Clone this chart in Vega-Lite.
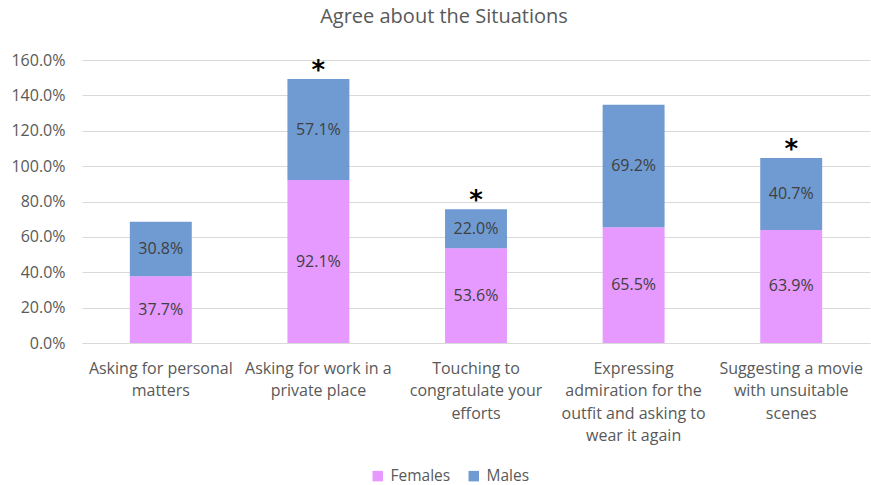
{
  "$schema": "https://vega.github.io/schema/vega-lite/v6.json",
  "width": 788,
  "height": 283,
  "autosize": {"type": "none"},
  "padding": {"left": 82, "top": 60, "right": 1, "bottom": 142},
  "background": "white",
  "config": {"font": "Open Sans", "view": {"stroke": null}},
  "title": {"text": "Agree about the Situations", "font": "Open Sans", "fontSize": 20, "fontWeight": "normal", "color": "#595959", "anchor": "middle", "dx": -32, "offset": 25},
  "data": {"values": [
    {"situation": "Asking for personal\nmatters", "gender": "Females", "value": 0.377, "sig": ""},
    {"situation": "Asking for personal\nmatters", "gender": "Males", "value": 0.308, "sig": ""},
    {"situation": "Asking for work in a\nprivate place", "gender": "Females", "value": 0.921, "sig": ""},
    {"situation": "Asking for work in a\nprivate place", "gender": "Males", "value": 0.571, "sig": "*"},
    {"situation": "Touching to\ncongratulate your\nefforts", "gender": "Females", "value": 0.536, "sig": ""},
    {"situation": "Touching to\ncongratulate your\nefforts", "gender": "Males", "value": 0.22, "sig": "*"},
    {"situation": "Expressing\nadmiration for the\noutfit and asking to\nwear it again", "gender": "Females", "value": 0.655, "sig": ""},
    {"situation": "Expressing\nadmiration for the\noutfit and asking to\nwear it again", "gender": "Males", "value": 0.692, "sig": ""},
    {"situation": "Suggesting a movie\nwith unsuitable\nscenes", "gender": "Females", "value": 0.639, "sig": ""},
    {"situation": "Suggesting a movie\nwith unsuitable\nscenes", "gender": "Males", "value": 0.407, "sig": "*"}
  ]},
  "transform": [
    {"stack": "value", "groupby": ["situation"], "as": ["v0", "v1"], "sort": [{"field": "gender"}]},
    {"calculate": "(datum.v0 + datum.v1) / 2", "as": "mid"}
  ],
  "encoding": {
    "x": {
      "field": "situation", "type": "nominal", "sort": null,
      "scale": {"paddingInner": 0.607, "paddingOuter": 0.3035},
      "axis": {"title": null, "labelAngle": 0, "labelExpr": "split(datum.label, '\\n')", "labelFontSize": 16, "labelColor": "#595959", "labelLineHeight": 22.5, "labelPadding": 17, "labelBaseline": "top", "ticks": false, "domain": true, "domainColor": "#d9d9d9", "labelFont": "Open Sans", "labelOverlap": false}
    }
  },
  "layer": [
    {
      "mark": {"type": "bar"},
      "encoding": {
        "y": {"field": "v0", "type": "quantitative", "scale": {"domain": [0, 1.6]},
          "axis": {"title": null, "format": ".1%", "values": [0, 0.2, 0.4, 0.6, 0.8, 1.0, 1.2, 1.4, 1.6], "labelFontSize": 16, "labelColor": "#595959", "labelPadding": 17, "ticks": false, "domain": false, "gridColor": "#d9d9d9", "gridWidth": 1, "labelFont": "Open Sans", "labelOverlap": false}},
        "y2": {"field": "v1"},
        "color": {"field": "gender", "type": "nominal",
          "scale": {"domain": ["Females", "Males"], "range": ["#E699FF", "#6F9BD2"]},
          "legend": {"title": null, "orient": "none", "legendX": 288, "legendY": 408, "direction": "horizontal", "symbolType": "square", "symbolSize": 110, "symbolStrokeWidth": 0, "labelFontSize": 15.5, "labelColor": "#595959", "labelFont": "Open Sans", "columnPadding": 15, "labelOffset": 5}}
      }
    },
    {
      "mark": {"type": "text", "fontSize": 16, "color": "#404040", "baseline": "middle", "font": "Open Sans"},
      "encoding": {
        "y": {"field": "mid", "type": "quantitative",
          "axis": {"title": null, "format": ".1%", "values": [0, 0.2, 0.4, 0.6, 0.8, 1.0, 1.2, 1.4, 1.6], "labelFontSize": 16, "labelColor": "#595959", "labelPadding": 17, "ticks": false, "domain": false, "gridColor": "#d9d9d9", "gridWidth": 1, "labelFont": "Open Sans", "labelOverlap": false}},
        "text": {"field": "value", "type": "quantitative", "format": ".1%"}
      }
    },
    {
      "mark": {"type": "text", "fontSize": 26, "fontWeight": "bold", "color": "#000000", "baseline": "alphabetic", "dy": 0, "font": "DejaVu Sans"},
      "encoding": {
        "y": {"field": "v1", "type": "quantitative",
          "axis": {"title": null, "format": ".1%", "values": [0, 0.2, 0.4, 0.6, 0.8, 1.0, 1.2, 1.4, 1.6], "labelFontSize": 16, "labelColor": "#595959", "labelPadding": 17, "ticks": false, "domain": false, "gridColor": "#d9d9d9", "gridWidth": 1, "labelFont": "Open Sans", "labelOverlap": false}},
        "text": {"field": "sig"}
      }
    }
  ]
}
